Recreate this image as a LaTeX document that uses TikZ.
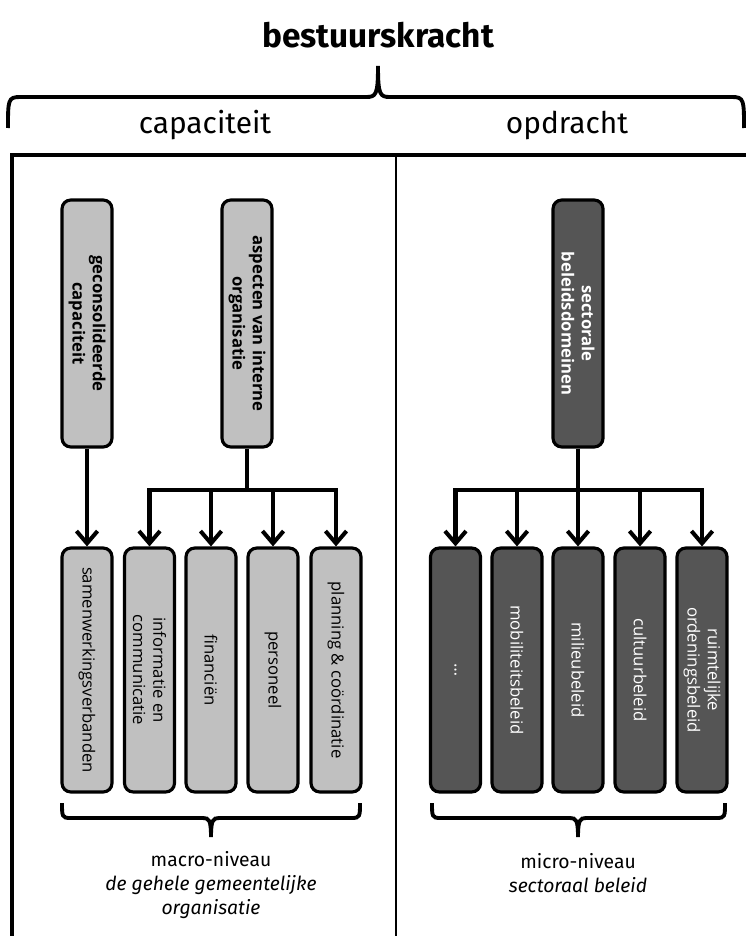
\documentclass[tikz,border=0pt]{standalone}
\usepackage{fontspec}
\setmainfont{Fira Sans}
\newfontfamily\vakfont{Open Sans}
\usetikzlibrary{arrows.meta}
\definecolor{lichtgrijs}{HTML}{C0C0C0}
\definecolor{donkergrijs}{HTML}{555555}

\begin{document}
\begin{tikzpicture}[x=0.02cm, y=-0.02cm,
	lichtvak/.style={draw, line width=1.8pt, rounded corners=5pt, fill=lichtgrijs, rotate=-90, minimum height=1cm, inner sep=1pt, align=center, font=\vakfont\fontsize{9.5}{11.5}\selectfont},
	donkervak/.style={lichtvak, fill=donkergrijs, text=white},
	hoofdvak/.style={minimum width=4.94cm, font=\vakfont\bfseries\fontsize{9.5}{11.5}\selectfont},
	deelvak/.style={minimum width=4.88cm},
	pijl/.style={line width=2.3pt, -{Straight Barb[length=7pt, width=12pt]}},
	lijn/.style={line width=2.3pt},
	accolade/.style={line width=2.2pt},
	kader/.style={line width=2.2pt},
	scheiding/.style={line width=1.4pt},
	titel/.style={font=\bfseries\fontsize{19}{23}\selectfont},
	kop/.style={font=\fontsize{17}{20}\selectfont},
	niveau/.style={align=center, font=\fontsize{11}{13.5}\selectfont}]
\useasboundingbox (0,0) rectangle (746,936);
	\node[titel] (titel) at (378,35) {bestuurskracht};
	\draw[accolade] (8,128) .. controls (8,100) and (8,97) .. (20,97) -- (366,97) .. controls (376,97) and (378,95) .. (378,66) .. controls (378,95) and (380,97) .. (390,97) -- (732,97) .. controls (744,97) and (744,100) .. (744,128);
	\node[kop] (capaciteit) at (205,125) {capaciteit};
	\node[kop] (opdracht) at (567,125) {opdracht};
	\draw[kader] (12,940) -- (12,155) -- (750,155);
	\draw[scheiding] (396,155) -- (396,940);

	\node[lichtvak, hoofdvak] (gecons) at (87,323.5) {geconsolideerde\\capaciteit};
	\node[lichtvak, hoofdvak] (aspecten) at (247,323.5) {aspecten van interne\\organisatie};
	\node[donkervak, hoofdvak] (sectoraal) at (578,323.5) {sectorale\\beleidsdomeinen};

	\node[lichtvak, deelvak] (samenw) at (87,670) {samenwerkingsverbanden};
	\node[lichtvak, deelvak] (info) at (149.5,670) {informatie en\\communicatie};
	\node[lichtvak, deelvak] (fin) at (211,670) {financiën};
	\node[lichtvak, deelvak] (pers) at (273,670) {personeel};
	\node[lichtvak, deelvak] (plan) at (336,670) {planning \& coördinatie};
	\node[donkervak, deelvak] (overig) at (455.5,670) {…};
	\node[donkervak, deelvak] (mobil) at (517,670) {mobiliteitsbeleid};
	\node[donkervak, deelvak] (milieu) at (578,670) {milieubeleid};
	\node[donkervak, deelvak] (cultuur) at (640,670) {cultuurbeleid};
	\node[donkervak, deelvak] (ruimte) at (702,670) {ruimtelijke\\ordeningsbeleid};

	\coordinate (asplit) at (247,490);
	\coordinate (ssplit) at (578,490);
	\draw[pijl] (gecons.east) -- (samenw.west);
	\draw[lijn] (aspecten.east) -- (asplit);
	\foreach \doel in {info,fin,pers,plan}
		\draw[pijl] (asplit) -| (\doel.west);
	\draw[lijn] (sectoraal.east) -- (ssplit);
	\foreach \doel in {overig,mobil,milieu,cultuur,ruimte}
		\draw[pijl] (ssplit) -| (\doel.west);

	\draw[accolade] (62,803) .. controls (62,816) and (62,818) .. (70,818) -- (203,818) .. controls (209,818) and (211,820) .. (211,837) .. controls (211,820) and (213,818) .. (219,818) -- (352,818) .. controls (360,818) and (360,816) .. (360,803);
	\draw[accolade] (432,803) .. controls (432,816) and (432,818) .. (440,818) -- (570,818) .. controls (576,818) and (578,820) .. (578,837) .. controls (578,820) and (580,818) .. (586,818) -- (717,818) .. controls (725,818) and (725,816) .. (725,803);
	\node[niveau] (macro) at (211,885) {macro-niveau\\\textit{de gehele gemeentelijke}\\\textit{organisatie}};
	\node[niveau] (micro) at (578,873) {micro-niveau\\\textit{sectoraal beleid}};
\end{tikzpicture}
\end{document}
